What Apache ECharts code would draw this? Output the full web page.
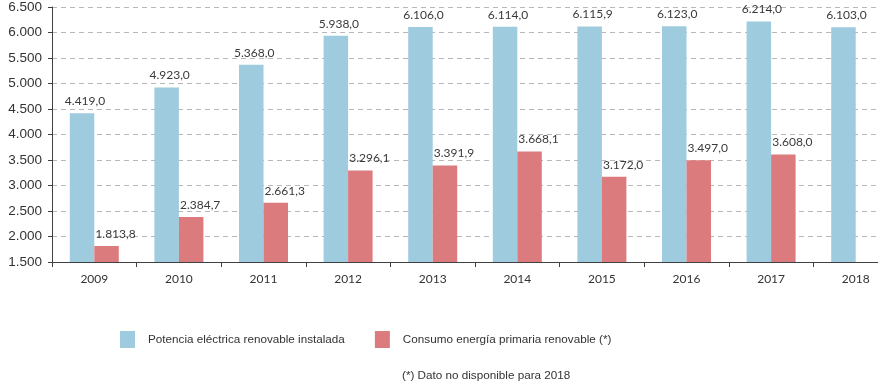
<!DOCTYPE html>
<html>
<head>
<meta charset="utf-8">
<script src="https://cdn.jsdelivr.net/npm/echarts@6/dist/echarts.min.js"></script>
<style>
  html, body { margin: 0; padding: 0; background: #ffffff; overflow: hidden; }
  #wrap { width: 878px; height: 386px; overflow: hidden; }
  /* the plot area runs slightly past the right edge of the view */
  #chart { width: 898px; height: 386px; }
</style>
</head>
<body>
<div id="wrap"><div id="chart"></div></div>
<script>
// Years shown on the category axis
const years = ['2009', '2010', '2011', '2012', '2013', '2014', '2015', '2016', '2017', '2018'];

// Installed renewable electric capacity
const potenciaRenovable = [4419.0, 4923.0, 5368.0, 5938.0, 6106.0, 6114.0, 6115.9, 6123.0, 6214.0, 6103.0];

// Renewable primary energy consumption (no figure for 2018)
const consumoRenovable = [1813.8, 2384.7, 2661.3, 3296.1, 3391.9, 3668.1, 3172.0, 3497.0, 3608.0, null];

// Value axis range and step
const yMin = 1500;
const yMax = 6500;
const yStep = 500;

const seriesNames = ['Potencia eléctrica renovable instalada', 'Consumo energía primaria renovable (*)'];
const footnote = '(*) Dato no disponible para 2018';

// Spanish number format: thousands with '.', decimals with ','
function fmt(v, decimals) {
  const parts = v.toFixed(decimals).split('.');
  const intPart = parts[0].replace(/\B(?=(\d{3})+(?!\d))/g, '.');
  return parts.length > 1 ? intPart + ',' + parts[1] : intPart;
}

const chart = echarts.init(document.getElementById('chart'), null, { renderer: 'canvas' });

const valueLabel = (dx) => ({
  show: true,
  position: 'top',
  distance: 6,
  offset: [dx, 0],
  fontFamily: 'Lato',
  fontSize: 12,
  color: '#3a3a3a',
  formatter: (p) => fmt(p.value, 1)
});

chart.setOption({
  animation: false,
  backgroundColor: '#ffffff',
  grid: { left: 52, right: 0, top: 7, bottom: 124, containLabel: false },
  legend: {
    left: 120,
    top: 331,
    padding: 0,
    itemWidth: 15,
    itemHeight: 17,
    itemGap: 30,
    icon: 'rect',
    textStyle: {
      fontFamily: 'Liberation Sans',
      fontSize: 11.7,
      color: '#333333',
      padding: [0, 0, 0, 8]
    },
    data: seriesNames
  },
  xAxis: {
    type: 'category',
    data: years,
    boundaryGap: true,
    axisLine: { show: true, lineStyle: { color: '#404040', width: 1 } },
    axisTick: { show: true, alignWithLabel: false, length: 5, lineStyle: { color: '#404040' } },
    axisLabel: { margin: 11, fontFamily: 'Lato', fontSize: 12, color: '#333333' },
    splitLine: { show: false }
  },
  yAxis: {
    type: 'value',
    min: yMin,
    max: yMax,
    interval: yStep,
    axisLine: { show: true, lineStyle: { color: '#404040', width: 1 } },
    axisTick: { show: true, length: 4, lineStyle: { color: '#404040' } },
    axisLabel: {
      margin: 10,
      fontFamily: 'Liberation Sans',
      fontSize: 13.5,
      color: '#333333',
      formatter: (v) => fmt(v, 0)
    },
    splitLine: { show: true, lineStyle: { color: '#b8b8b8', type: [5, 4], width: 1 } }
  },
  series: [
    {
      name: seriesNames[0],
      type: 'bar',
      data: potenciaRenovable,
      barWidth: 24.5,
      barGap: '0%',
      itemStyle: { color: '#9ecbde' },
      label: valueLabel(3)
    },
    {
      name: seriesNames[1],
      type: 'bar',
      data: consumoRenovable,
      barWidth: 24.5,
      barGap: '0%',
      itemStyle: { color: '#dc7b7e' },
      label: valueLabel(9)
    }
  ],
  graphic: [
    {
      type: 'text',
      left: 402,
      top: 370,
      style: {
        text: footnote,
        fontFamily: 'Liberation Sans',
        fontSize: 11.7,
        fill: '#333333'
      }
    }
  ]
});
</script>
</body>
</html>
